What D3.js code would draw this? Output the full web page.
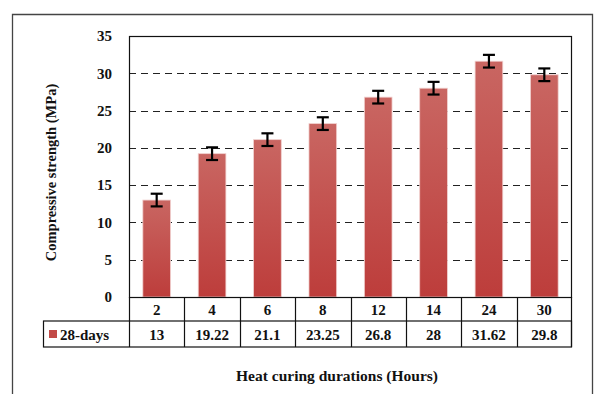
<!DOCTYPE html>
<html>
<head>
<meta charset="utf-8">
<script src="https://cdn.jsdelivr.net/npm/d3@7"></script>
</head>
<body style="margin:0;padding:0;background:#fff">
<svg id="chart" width="594" height="394" style="display:block"></svg>
<script>
// Heat curing duration (hours) and 28-day compressive strength (MPa)
const durations = ["2", "4", "6", "8", "12", "14", "24", "30"];
const strength28 = [13, 19.22, 21.1, 23.25, 26.8, 28, 31.62, 29.8];
const errors28 = [0.85, 0.85, 0.85, 0.85, 0.85, 0.85, 0.85, 0.85];
const yTicks = [0, 5, 10, 15, 20, 25, 30, 35];
const seriesName = "28-days";

const FONT = "'Liberation Serif', Tinos, 'Times New Roman', serif";
const svg = d3.select("#chart");
const W = 594, H = 394;
const plot = { left: 129, right: 572, top: 36, bottom: 297 };
const legendLeft = 43;
const rowH = [24, 26];

// gradient for bars (lighter at the top, deeper red at the base)
const defs = svg.append("defs");
const grad = defs.append("linearGradient")
  .attr("id", "barGrad").attr("x1", 0).attr("y1", 0).attr("x2", 0).attr("y2", 1);
grad.append("stop").attr("offset", "0%").attr("stop-color", "#c96662");
grad.append("stop").attr("offset", "100%").attr("stop-color", "#bd3d3b");

// outer frame (open at the bottom)
svg.append("path")
  .attr("d", `M12.5,${H} V14.5 H592.5 V${H}`)
  .attr("fill", "none").attr("stroke", "#444").attr("stroke-width", 1.3);

const x = d3.scaleBand().domain(durations).range([plot.left, plot.right]).paddingInner(0).paddingOuter(0);
const y = d3.scaleLinear().domain([0, 35]).range([plot.bottom, plot.top]);

// dashed gridlines
svg.append("g").selectAll("line")
  .data(yTicks.filter(t => t > 0 && t < 35))
  .join("line")
  .attr("x1", plot.left).attr("x2", plot.right)
  .attr("y1", d => Math.round(y(d)) + 0.5).attr("y2", d => Math.round(y(d)) + 0.5)
  .attr("stroke", "#222").attr("stroke-width", 1)
  .attr("stroke-dasharray", "7,5");

// bars
const barW = x.bandwidth() * 0.5;
svg.append("g").selectAll("rect")
  .data(durations.map((d, i) => ({ d, v: strength28[i] })))
  .join("rect")
  .attr("x", p => x(p.d) + (x.bandwidth() - barW) / 2)
  .attr("y", p => y(p.v))
  .attr("width", barW)
  .attr("height", p => y(0) - y(p.v))
  .attr("fill", "url(#barGrad)")
  .attr("stroke", "#f1d0cf").attr("stroke-width", 0.8);

// error bars
const eg = svg.append("g").attr("stroke", "#000").attr("stroke-width", 2.2);
durations.forEach((d, i) => {
  const cx = x(d) + x.bandwidth() / 2;
  const hi = y(strength28[i] + errors28[i]);
  const lo = y(strength28[i] - errors28[i]);
  eg.append("line").attr("x1", cx).attr("x2", cx).attr("y1", hi).attr("y2", lo);
  eg.append("line").attr("x1", cx - 6).attr("x2", cx + 6).attr("y1", hi).attr("y2", hi);
  eg.append("line").attr("x1", cx - 6).attr("x2", cx + 6).attr("y1", lo).attr("y2", lo);
});

// plot border
svg.append("rect")
  .attr("x", plot.left + 0.5).attr("y", plot.top + 0.5)
  .attr("width", plot.right - plot.left - 1).attr("height", plot.bottom - plot.top)
  .attr("fill", "none").attr("stroke", "#111").attr("stroke-width", 1.2);

// y axis labels
const yAxis = d3.axisLeft(y).tickValues(yTicks).tickSize(0).tickPadding(17);
const ya = svg.append("g").attr("transform", `translate(${plot.left},0)`).call(yAxis);
ya.select(".domain").remove();

// data table below the plot
const row1Top = plot.bottom, row2Top = plot.bottom + rowH[0], tableBottom = row2Top + rowH[1];
const tg = svg.append("g").attr("stroke", "#111").attr("stroke-width", 1.2).attr("fill", "none");
tg.append("rect").attr("x", legendLeft + 0.5).attr("y", row2Top)
  .attr("width", plot.right - legendLeft - 1).attr("height", rowH[1]);
tg.append("line").attr("x1", plot.right - 0.5).attr("x2", plot.right - 0.5).attr("y1", row1Top).attr("y2", tableBottom);
tg.append("line").attr("x1", plot.left + 0.5).attr("x2", plot.left + 0.5).attr("y1", row1Top).attr("y2", tableBottom);
durations.slice(1).forEach(d => {
  tg.append("line").attr("x1", Math.round(x(d)) + 0.5).attr("x2", Math.round(x(d)) + 0.5)
    .attr("y1", row1Top).attr("y2", tableBottom);
});

const xAxis = d3.axisBottom(x).tickSize(0).tickPadding(0);
const xa = svg.append("g").attr("transform", `translate(0,${row1Top})`).call(xAxis);
xa.select(".domain").remove();
xa.selectAll("text").attr("dy", null).attr("y", rowH[0] / 2 + 5.5);

svg.append("g").selectAll("text")
  .data(strength28.map((v, i) => ({ d: durations[i], v })))
  .join("text")
  .attr("x", p => x(p.d) + x.bandwidth() / 2)
  .attr("y", row2Top + rowH[1] / 2 + 5.5)
  .attr("text-anchor", "middle")
  .text(p => p.v);

// legend key in the table
svg.append("rect").attr("x", 49).attr("y", row2Top + rowH[1] / 2 - 4)
  .attr("width", 8).attr("height", 8).attr("fill", "#c24a47");
svg.append("text").attr("x", 60).attr("y", row2Top + rowH[1] / 2 + 5.5)
  .text(seriesName);

// axis titles
svg.append("text").attr("class", "ytitle")
  .attr("transform", `translate(56,${(plot.top + plot.bottom) / 2 + 6}) rotate(-90)`)
  .attr("text-anchor", "middle")
  .text("Compressive strength (MPa)");
svg.append("text").attr("class", "xtitle")
  .attr("x", 337).attr("y", 381)
  .attr("text-anchor", "middle")
  .text("Heat curing durations (Hours)");

// common text styling applied on every text element
svg.selectAll("text")
  .attr("font-family", "Liberation Serif")
  .attr("font-weight", "bold")
  .attr("font-size", 15)
  .attr("fill", "#111")
  .style("font-family", FONT, "important")
  .style("font-weight", "bold", "important");
svg.select(".ytitle").attr("font-size", 14.5);
svg.select(".xtitle").attr("font-size", 15.5);
</script>
</body>
</html>
